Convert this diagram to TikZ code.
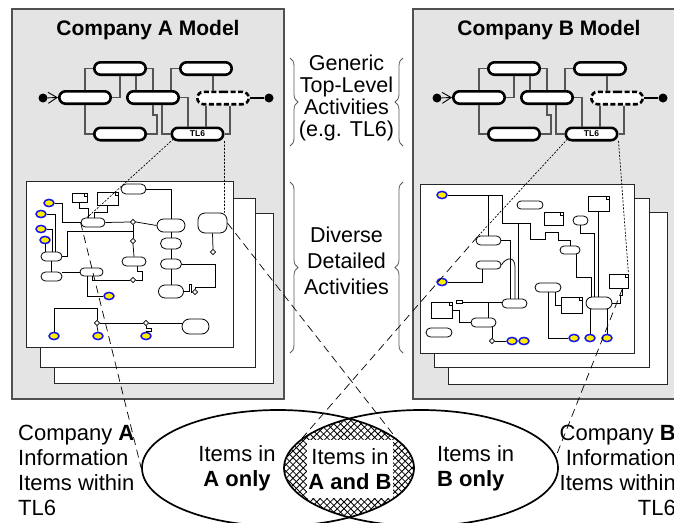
\documentclass[tikz,border=0pt]{standalone}
\usepackage{fontspec}
\setmainfont{Liberation Sans}
\usetikzlibrary{calc,decorations.pathreplacing,arrows.meta,shapes.geometric,shapes.misc}

\definecolor{panelfill}{RGB}{228,228,228}
\definecolor{panelline}{RGB}{80,80,80}
\definecolor{flowgray}{RGB}{85,85,85}
\definecolor{bracegray}{RGB}{90,90,90}
\definecolor{itemfill}{RGB}{255,238,0}
\definecolor{itemrim}{RGB}{20,20,235}

\tikzset{
  panel/.style={fill=panelfill, draw=panelline, line width=1.4pt},
  sheet/.style={fill=white, draw=black!85, line width=1pt},
  title/.style={font=\fontsize{21}{24}\selectfont\bfseries, inner sep=0pt, anchor=base},
  activity/.style={rounded rectangle, draw=black, line width=2.6pt, fill=white,
    minimum width=51.4pt, minimum height=12.4pt, inner sep=0pt,
    font=\fontsize{8.5}{9}\selectfont\bfseries},
  optional/.style={activity, dash pattern=on 5pt off 2.5pt},
  flow/.style={draw=flowgray, line width=1.3pt},
  terminal/.style={circle, fill=black, minimum size=9pt, inner sep=0pt},
  pill/.style={rounded rectangle, draw=black, line width=0.8pt, fill=white, inner sep=0pt},
  bigpill/.style={rectangle, rounded corners=7pt, draw=black, line width=0.8pt, fill=white, inner sep=0pt},
  item/.style={ellipse, draw=itemrim, fill=itemfill, line width=1.5pt,
    minimum width=10pt, minimum height=7.2pt, inner sep=0pt},
  docbox/.style={rectangle, draw=black, line width=0.8pt, fill=white, inner sep=0pt,
    path picture={\draw[line width=0.6pt]
      ([xshift=-3pt]path picture bounding box.north east) -- ++(0,-3pt) -- ++(3pt,0);}},
  tag/.style={rectangle, draw=black, line width=0.6pt, fill=white, inner sep=0pt},
  gate/.style={diamond, draw=black, fill=white, line width=0.6pt, minimum size=5.5pt, inner sep=0pt},
  wire/.style={draw=black, line width=0.75pt},
  tiedot/.style={draw=black, line width=0.7pt, dash pattern=on 2pt off 1.5pt},
  tiedash/.style={draw=black, line width=0.7pt, dash pattern=on 8pt off 5pt},
  groupbrace/.style={draw=bracegray, line width=0.8pt, decorate,
    decoration={brace, amplitude=8pt, aspect=0.5}},
  note/.style={font=\fontsize{21.5}{22}\selectfont, align=center, inner sep=0pt},
  caption/.style={font=\fontsize{22}{25}\selectfont, inner sep=0pt},
  venn/.style={ellipse, draw=black, line width=1.7pt, minimum height=116pt, inner sep=0pt},
}

% generic top-level activity flow; #1 = name prefix, #2 = horizontal offset
\newcommand\topflow[2]{%
\begin{scope}[xshift=#2pt]
  \node[terminal] (#1start) at (43,98) {};
  \node[terminal] (#1end) at (269,98) {};
  \node[activity] (#1a) at (85,97.5) {};
  \node[activity] (#1b) at (120,68.5) {};
  \node[activity] (#1c) at (120,134) {};
  \node[activity] (#1d) at (153,97.5) {};
  \node[activity] (#1e) at (206,68.5) {};
  \node[optional] (#1f) at (223,98) {};
  \node[activity] (#1tl) at (197.5,134) {TL6};
  \draw[flow] (#1a.north) |- (#1b.west);
  \draw[flow] (#1a.south) |- (#1c.west);
  \draw[flow] (#1a.east) -| (#1b.south);
  \draw[flow] (#1b.east) -| (#1d.north);
  \draw[flow] ([xshift=16pt]#1b.south) -- ([xshift=-17pt]#1d.north);
  \draw[flow] (#1c.east) -| ($(#1d.south)+(4,10)$) -| (#1d.south);
  \draw[flow] ([xshift=9pt]#1d.south) |- (#1tl.west);
  \draw[flow] (#1d.east) -| ([xshift=-9.5pt]#1tl.north);
  \draw[flow] ([xshift=18pt]#1d.north) |- (#1e.west);
  \draw[flow] ([xshift=7pt]#1e.south) -- ([xshift=-10pt]#1f.north);
  \draw[flow] ([xshift=-17pt]#1f.south) -- ([xshift=8.5pt]#1tl.north);
  \draw[flow] ([xshift=7pt]#1f.south) |- (#1tl.east);
  \draw[line width=1.3pt] (#1f.east) -- (#1end);
  \draw[line width=0.9pt, -{Straight Barb[length=9pt,width=11pt]}] (#1start) -- (#1a.west);
\end{scope}}

\begin{document}
\begin{tikzpicture}[x=1pt, y=-1pt]
\useasboundingbox (0,0) rectangle (674,522);

% ---------- model panels ----------
\draw[panel] (12,9) rectangle (284,399);
\draw[panel] (413,9) rectangle (690,399);
\node[title] (titleA) at (148,35) {Company A Model};
\node[title] (titleB) at (549,35) {Company B Model};

\topflow{A}{0}
\topflow{B}{394}

% ---------- company A: detailed activity sheets ----------
\draw[sheet] (54,213) rectangle (273,383);
\draw[sheet] (40,198) rectangle (255,367);
\draw[sheet] (26,181) rectangle (233,347);

\node[item] (Ay1) at (49,203) {};
\node[item] (Ay2) at (41,214) {};
\node[item] (Ay3) at (41,229) {};
\node[item] (Ay4) at (45,240) {};
\node[item] (Ay5) at (109,296) {};
\node[item] (Ay6) at (54,336) {};
\node[item] (Ay7) at (98,336) {};
\node[item] (Ay8) at (146,336) {};
\node[docbox, minimum width=15pt, minimum height=9pt] (Ad1) at (79.5,197.5) {};
\node[docbox, minimum width=21pt, minimum height=13pt] (Ad2) at (107.5,198.5) {};
\node[pill, minimum width=25pt, minimum height=10pt] (Apa1) at (133.5,189) {};
\node[pill, minimum width=24pt, minimum height=9pt] (Apa2) at (93,222.5) {};
\node[pill, minimum width=28pt, minimum height=13pt] (Apa3) at (171,225.5) {};
\node[pill, minimum width=21pt, minimum height=11pt] (Apa4) at (171,243.5) {};
\node[pill, minimum width=21pt, minimum height=10pt] (Apa5) at (171,264) {};
\node[pill, minimum width=25pt, minimum height=13pt] (Apa6) at (171,291.5) {};
\node[pill, minimum width=24pt, minimum height=9pt] (Apa7) at (134,261.5) {};
\node[pill, minimum width=21pt, minimum height=9pt] (Apa8) at (51.5,256.5) {};
\node[pill, minimum width=21pt, minimum height=9pt] (Apa9) at (51.5,276.5) {};
\node[pill, minimum width=23pt, minimum height=8pt] (Apa10) at (91.5,272) {};
\node[pill, minimum width=27pt, minimum height=15pt] (Apa11) at (195.5,326.5) {};
\node[bigpill, minimum width=29pt, minimum height=20pt] (Ara) at (212.5,223) {};
\node[gate] (Ag1) at (133,222) {};
\node[gate] (Ag2) at (133,241) {};
\node[gate] (Ag3) at (133,280) {};
\node[gate] (Ag4) at (213,252) {};
\node[gate] (Ag5) at (195,292) {};
\node[gate] (Ag6) at (97,323) {};
\node[gate] (Ag7) at (146,323) {};

\draw[wire] (Ay1.east) -- ++(8,0) |- (Apa2.west);
\draw[wire] (Ay2.east) -| ([xshift=3.5pt]Apa8.north);
\draw[wire] (Ay3.east) -| ([xshift=0.5pt]Apa8.north);
\draw[wire] (Ay4.south) -- (Ay4.south |- Apa8.north);
\draw[wire] (Apa8.south) -- (Apa9.north);
\draw[wire] (Apa8.east) -- ++(5,0) |- ($(Ag1)!0.5!(Ag2)$);
\draw[wire] (Apa10.west) -- (Apa10.west -| Apa9.east);
\draw[wire] (Apa2.east) -- (Ag1.west);
\draw[wire] (Ag1.east) -- (Apa3.west);
\draw[wire] (Ag1.south) -- (Ag2.north);
\draw[wire] (Ag2.south) -- (Apa7.north);
\draw[wire] ([xshift=3pt]Apa7.south) -- ++(0,5) -- ++(5,0) |- (Ag3.east);
\draw[wire] ([xshift=1pt]Apa10.south) |- (Ag3.west);
\draw[wire] ([xshift=-4.5pt]Apa10.south) |- (Ay5.west);
\draw[wire] (Ad1.south) -- ++(0,6) -| ([xshift=-5pt]Apa2.north);
\draw[wire] (Ad2.south) -- ++(0,7) -| ([xshift=1pt]Apa2.north);
\draw[wire] (Apa1.east) -| (Apa3.north);
\draw[wire] (Apa3.south) -- (Apa4.north);
\draw[wire] (Apa4.south) -- (Apa5.north);
\draw[wire] (Apa5.south) -- (Apa6.north);
\draw[wire] (Apa5.east) -| ($(Ag5.north)+(20,-2)$) -| (Ag5.north);
\draw[wire] (Apa6.east) -- ++(5,0) -- ++(0,-7) -- ++(2.5,0) |- (Ag5.west);
\draw[wire] (Ara.south) -- (Ag4.north);
\draw[wire] (Ay6.north) -- ++(0,-23) -| (Ag6.north);
\draw[wire] (Ag6.east) -- (Ag7.west);
\draw[wire] (Ag7.east) -- (Ag7.east -| Apa11.west);
\draw[wire] (Ag6.south) -- (Ay7.north);
\draw[wire] (Ag7.south) -- ++(0,2.5) -- ++(5,0) -- ++(0,3) -- ++(-5,0) -- (Ay8.north);

% ---------- company B: detailed activity sheets ----------
\draw[sheet] (448,212) rectangle (667,384);
\draw[sheet] (434,198) rectangle (649,367);
\draw[sheet] (420,184) rectangle (634,353);

\node[item] (By1) at (442,195) {};
\node[item] (By2) at (442,282) {};
\node[item] (By3) at (512,341) {};
\node[item] (By4) at (524,341) {};
\node[item] (By5) at (574,338) {};
\node[item] (By6) at (590,338) {};
\node[item] (By7) at (607,338) {};
\node[pill, minimum width=26pt, minimum height=8pt] (Bpb1) at (530,205) {};
\node[pill, minimum width=25pt, minimum height=9pt] (Bpb2) at (488.5,240.5) {};
\node[pill, minimum width=25pt, minimum height=8pt] (Bpb3) at (488.5,265) {};
\node[pill, minimum width=25pt, minimum height=9pt] (Bpb4) at (514.5,303.5) {};
\node[pill, minimum width=20pt, minimum height=8pt] (Bpb5) at (570,250) {};
\node[pill, minimum width=15pt, minimum height=9pt] (Bpb6) at (580.5,220.5) {};
\node[pill, minimum width=26pt, minimum height=9pt] (Bpb7) at (548,287.5) {};
\node[pill, minimum width=26pt, minimum height=12pt] (Bpb8) at (599,303) {};
\node[pill, minimum width=25pt, minimum height=9pt] (Bpb9) at (483.5,322.5) {};
\node[pill, minimum width=26pt, minimum height=9pt] (Bpb10) at (439,332.5) {};
\node[docbox, minimum width=21pt, minimum height=15pt] (Bdb1) at (598.5,203.5) {};
\node[docbox, minimum width=19pt, minimum height=13pt] (Bdb2) at (553.5,218.5) {};
\node[docbox, minimum width=19pt, minimum height=14pt] (Bdb3) at (618.5,281) {};
\node[docbox, minimum width=21pt, minimum height=16pt] (Bdb4) at (571.5,305) {};
\node[docbox, minimum width=21pt, minimum height=16pt] (Bdb5) at (441.5,310) {};
\node[tag, minimum width=6pt, minimum height=2.5pt] (Bdb6) at (459,302) {};
\node[gate] (Bg1) at (492,341) {};

\draw[wire] (By1.east) -| (502,223) -| (530,239) -| (545,232) -| (558,240) -| (Bpb5.north);
\draw[wire] (By1.east -| Bpb2.north) -- (Bpb2.north);
\draw[wire] (518,223) -- ([xshift=3.5pt]Bpb4.north);
\draw[wire] (Bpb2.east) -| ([xshift=-4.5pt]Bpb4.north);
\draw[wire] (Bpb3.east) .. controls (506,257) and (515,256) .. ([xshift=0.5pt,yshift=-2pt]Bpb3.east -| Bpb4.north) -- ([xshift=0.5pt]Bpb4.north);
\draw[wire] ([xshift=-6pt]Bpb3.south) |- (By2.east);
\draw[wire] (Bdb6.east) -- (Bdb6.east -| Bpb4.west);
\draw[wire] ([xshift=4.5pt]Bpb9.north |- Bdb6.east) -- ([xshift=4.5pt]Bpb9.north);
\draw[wire] (Bdb5.east) -- ++(7,0) |- (Bpb9.west);
\draw[wire] ([xshift=8.5pt]Bpb9.south) -- (Bg1.north);
\draw[wire] (Bg1.east) -- (By3.west);
\draw[wire] (Bpb7.south) |- (By5.west);
\draw[wire] ([xshift=7pt]Bpb7.south) |- (Bdb4.west);
\draw[wire] (Bpb6.south) -- ++(0,8) -| ([xshift=-5pt]Bpb8.north);
\draw[wire] (Bdb1.south) -- (Bdb1.south |- Bpb8.north);
\draw[wire] ([xshift=6.5pt]Bpb5.south) -- ++(0,22.5) -| ([xshift=-8pt]Bpb8.north);
\draw[wire] (By6.north |- Bpb8.south) -- (By6.north);
\draw[wire] (By7.north |- Bpb8.south) -- (By7.north);
\draw[wire] (Bpb8.east) -| ($(Bdb3.south)+(1.5,7)$) -| ([xshift=4pt]Bdb3.south);

% ---------- centre labels with braces ----------
\node[note] (generic) at (346.5,98) {Generic\\Top-Level\\Activities\\(e.g. TL6)};
\node[note, font=\fontsize{21.5}{26}\selectfont] (diverse) at (346.5,260.7) {Diverse\\Detailed\\Activities};
\draw[groupbrace] (290,58) -- (290,146);
\draw[groupbrace] (403,146) -- (403,58);
\draw[groupbrace] (290,182) -- (290,353);
\draw[groupbrace] (403,353) -- (403,182);

% ---------- Venn diagram of information items ----------
\begin{scope}
  \clip (278,468) ellipse [x radius=136pt, y radius=58pt];
  \clip (421,468) ellipse [x radius=137pt, y radius=58pt];
  \foreach \k in {0,...,66} {
    \draw[line width=0.8pt] ({140+6.8*\k},400) -- ++(140,140);
    \draw[line width=0.8pt] ({140+6.8*\k},400) -- ++(-140,140);
  }
\end{scope}
\node[venn, minimum width=272pt] (vA) at (278,468) {};
\node[venn, minimum width=274pt] (vB) at (421,468) {};
\node[caption, align=center] (onlyA) at (237,468) {Items in\\\textbf{A only}};
\node[caption, align=center, fill=white, minimum width=86pt, minimum height=58pt] (both) at (350,469) {Items in\\\textbf{A and B}};
\node[caption, align=left, anchor=west] (onlyB) at (437,468) {Items in\\\textbf{B only}};

\node[caption, align=left, anchor=north west] (infoA) at (18,424.5) {Company \textbf{A}\\Information\\Items within\\TL6};
\node[caption, align=right, anchor=north east] (infoB) at (676,424.5) {Company \textbf{B}\\Information\\Items within\\TL6};

% ---------- ties from TL6 through the detailed sheets to the Venn regions ----------
\draw[tiedot] ($(Atl.west)+(3,5)$) -- ($(Apa2.north)+(-6,0)$);
\draw[tiedash] (Apa2.west) -- (vA.west);
\draw[tiedot] ($(Atl.east)+(0,7)$) -- ($(Ara.north east)+(-3,0)$);
\draw[tiedash] (Ara.east) -- (vA.14);
\draw[tiedot] ($(Btl.west)+(3,5)$) -- (Bpb2.160);
\draw[tiedash] (Bpb2.160) -- (vB.166);
\draw[tiedot] ($(Btl.east)+(0,7)$) -- (Bdb3.north east);
\draw[tiedash] ([xshift=4pt]Bdb3.south) -- (vB.5);
\end{tikzpicture}
\end{document}
